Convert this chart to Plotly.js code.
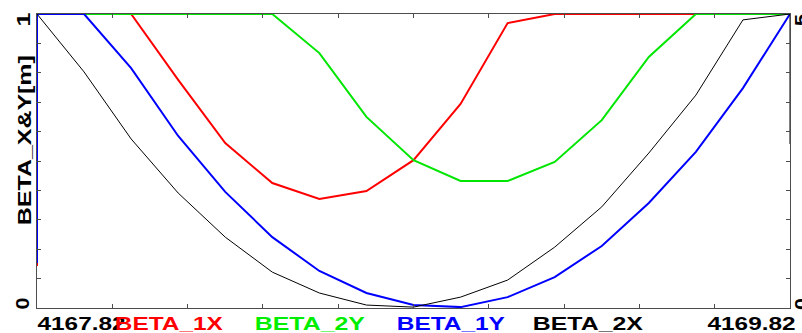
<!DOCTYPE html>
<html>
<head>
<meta charset="utf-8">
<script src="https://cdn.plot.ly/plotly-3.0.1.min.js"></script>
<style>
html,body{margin:0;padding:0;background:#fff;}
#chart{width:802px;height:333px;}
</style>
</head>
<body>
<div id="chart"></div>
<script>
// Longitudinal positions s [m]
var sPos = [4167.82, 4167.945, 4168.07, 4168.195, 4168.32, 4168.445, 4168.57, 4168.695, 4168.82,
            4168.945, 4169.07, 4169.195, 4169.32, 4169.445, 4169.57, 4169.695, 4169.82];

// Beta values (normalised plot scale, clipped at top of frame)
var beta1X = [1, 1, 1, 0.776, 0.561, 0.425, 0.371, 0.398, 0.503, 0.694, 0.969, 1, 1, 1, 1, 1, 1];
var beta2Y = [1, 1, 1, 1, 1, 1, 0.867, 0.650, 0.503, 0.432, 0.432, 0.497, 0.639, 0.854, 1, 1, 1];
var beta1Y = [1, 1, 0.816, 0.585, 0.395, 0.241, 0.126, 0.051, 0.010, 0.003, 0.037, 0.105, 0.211, 0.357, 0.531, 0.748, 1];
var beta2X = [1, 0.803, 0.575, 0.391, 0.241, 0.122, 0.051, 0.010, 0.003, 0.037, 0.095, 0.207, 0.344, 0.527, 0.724, 0.980, 1];

// Edge values (start / end segments drawn on the frame)
var beta1XStart = 0.143;
var beta1YStart = 0.153;
var beta2XEnd = 0.558;

var seriesNames = ['BETA_1X', 'BETA_2Y', 'BETA_1Y', 'BETA_2X'];
var seriesColors = ['#ff0000', '#00e600', '#0000ff', '#000000'];
var xTickLabels = ['4167.82', '4169.82'];
var yTickLabels = ['0', '1'];
var y2TickLabels = ['0', '5'];
var yTitle = 'BETA_X&Y[m]';

var W = 802, H = 333;
var L = 37, R = 790, T = 14, B = 308;
function px(x){ return (x - L) / (R - L); }
function py(y){ return (B - y) / (B - T); }

var traces = [
  {x: [sPos[0]].concat(sPos), y: [beta1XStart].concat(beta1X), color: seriesColors[0], w: 2},
  {x: sPos, y: beta2Y, color: seriesColors[1], w: 2},
  {x: [sPos[0]].concat(sPos), y: [beta1YStart].concat(beta1Y), color: seriesColors[2], w: 2},
  {x: sPos.concat([sPos[sPos.length-1]]), y: beta2X.concat([beta2XEnd]), color: seriesColors[3], w: 1}
].map(function(t, i){
  return {type: 'scatter', mode: 'lines', x: t.x, y: t.y, name: seriesNames[i],
          line: {color: t.color, width: t.w}, hoverinfo: 'skip'};
});

var fnt = 'Liberation Sans, Arial, sans-serif';
function ann(text, cx, cy, color, width, angle){
  return {text: text, xref: 'paper', yref: 'paper', x: px(cx), y: py(cy),
          xanchor: 'center', yanchor: 'middle', showarrow: false, textangle: angle || 0,
          font: {family: fnt, size: 18, color: color, weight: 'bold'}, _w: width};
}

var annots = [
  ann(xTickLabels[0], 81, 323.5, '#000', 88),
  ann(seriesNames[0], 169, 323.5, seriesColors[0], 108),
  ann(seriesNames[1], 310, 323.5, '#00ee00', 110),
  ann(seriesNames[2], 451, 323.5, seriesColors[2], 108),
  ann(seriesNames[3], 588, 323.5, seriesColors[3], 110),
  ann(xTickLabels[1], 751, 323.5, '#000', 88),
  ann(yTickLabels[1], 23.5, 20, '#000', 14, -90),
  ann(yTickLabels[0], 22.5, 304, '#000', 12, -90),
  ann(yTitle, 24.5, 140, '#000', 170, -90),
  ann(y2TickLabels[1], 802, 20, '#000', 12, -90),
  ann(y2TickLabels[0], 802, 304, '#000', 12, -90)
];
var widths = annots.map(function(a){ var w = a._w; delete a._w; return w; });

var axCommon = {showgrid: false, zeroline: false, showline: true, linecolor: '#4d4d4d', linewidth: 1,
                ticks: 'inside', ticklen: 4, tickwidth: 1, tickcolor: '#4d4d4d', mirror: 'ticks',
                showticklabels: false, fixedrange: true};

var layout = {
  width: W, height: H,
  margin: {l: L, r: W - R, t: T, b: H - B, pad: 0},
  paper_bgcolor: '#fff', plot_bgcolor: '#fff',
  showlegend: false,
  xaxis: Object.assign({}, axCommon, {range: [4167.82, 4169.82], dtick: 0.2, tick0: 4167.82}),
  yaxis: Object.assign({}, axCommon, {range: [0, 1], dtick: 0.1, tick0: 0}),
  annotations: annots
};

Plotly.newPlot('chart', traces, layout, {staticPlot: true}).then(function(gd){
  widths.forEach(function(w, i){
    var t = gd.querySelector('g.annotation[data-index="' + i + '"] text.annotation-text');
    if (t) { t.setAttribute('textLength', w); t.setAttribute('lengthAdjust', 'spacingAndGlyphs'); }
  });
});
</script>
</body>
</html>
